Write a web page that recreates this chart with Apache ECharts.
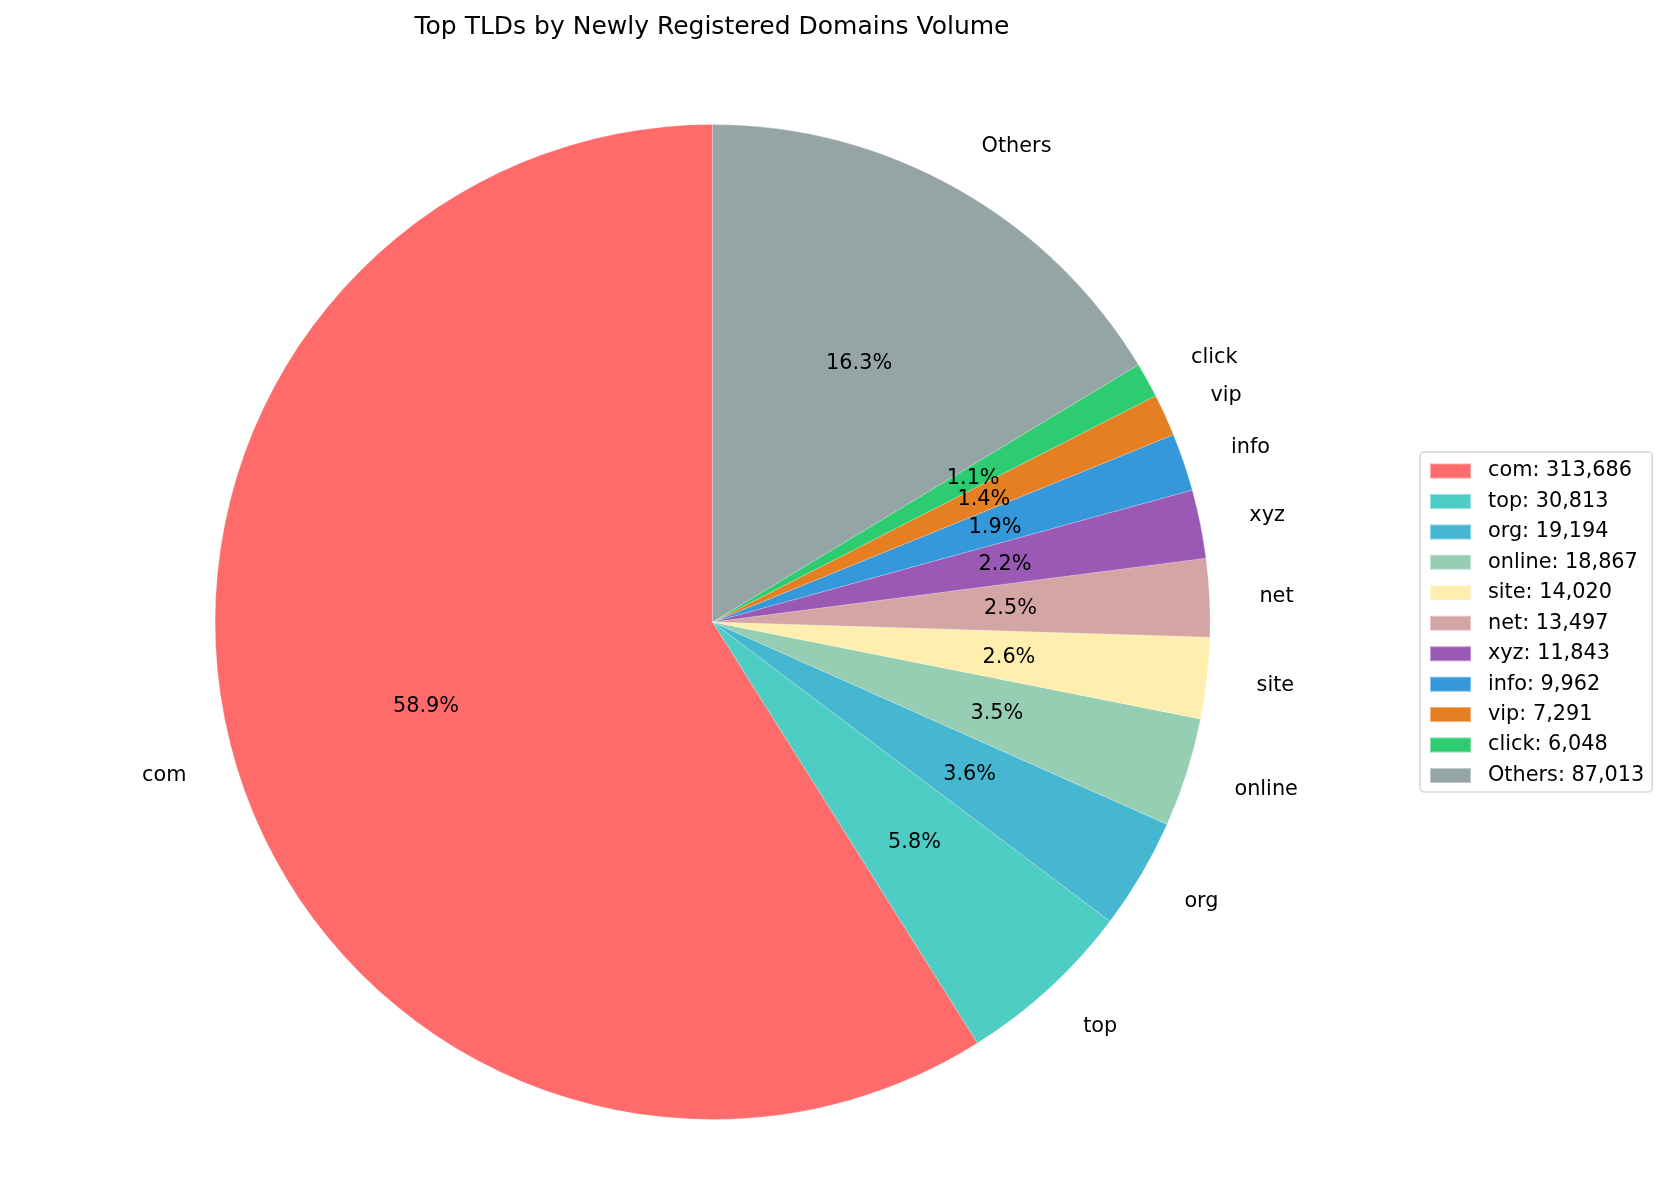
<!DOCTYPE html>
<html>
<head>
<meta charset="utf-8">
<title>Top TLDs</title>
<style>
  html, body { margin: 0; padding: 0; background: #fff; }
  #chart { width: 1666px; height: 1185px; }
</style>
<script src="https://cdn.jsdelivr.net/npm/echarts@6/dist/echarts.min.js"></script>
</head>
<body>
<div id="chart"></div>
<script>
const tlds = ['com', 'top', 'org', 'online', 'site', 'net', 'xyz', 'info', 'vip', 'click', 'Others']
const domainCounts = [313686, 30813, 19194, 18867, 14020, 13497, 11843, 9962, 7291, 6048, 87013]
const sliceColors = ['#FF6B6B', '#4ECDC4', '#45B7D1', '#96CEB4', '#FFEEAD', '#D4A5A5', '#9B59B6', '#3498DB', '#E67E22', '#2ECC71', '#95A5A6']

const FONT = '"DejaVu Sans"'
const CENTER = [712.6, 622]
const RADIUS = 497.5

const total = domainCounts.reduce((sum, v) => sum + v, 0)
const pieData = tlds.map((name, i) => ({ name, value: domainCounts[i], itemStyle: { color: sliceColors[i] } }))

const myChart = echarts.init(document.getElementById('chart'))

myChart.setOption({
  animation: false,
  backgroundColor: '#fff',
  title: {
    text: 'Top TLDs by Newly Registered Domains Volume',
    left: 707,
    top: 10,
    textAlign: 'center',
    textStyle: { fontFamily: FONT, fontSize: 25, fontWeight: 'normal', color: '#000' }
  },
  legend: {
    orient: 'vertical',
    left: 1420,
    top: 452,
    data: tlds,
    icon: 'rect',
    itemWidth: 41,
    itemHeight: 15,
    itemGap: 9.45,
    padding: [8.5, 8, 6, 9],
    borderColor: '#d5d5d5',
    borderWidth: 1.5,
    borderRadius: 4,
    formatter: name => `${name}: ${domainCounts[tlds.indexOf(name)].toLocaleString('en-US')}`,
    textStyle: { fontFamily: FONT, fontSize: 20.8, lineHeight: 20, color: '#000', padding: [0, 0, 0, 12] }
  },
  series: [
    {
      // slices and the names outside
      type: 'pie',
      center: CENTER,
      radius: [0, RADIUS],
      startAngle: 90,
      clockwise: false,
      avoidLabelOverlap: false,
      data: pieData,
      itemStyle: { borderColor: 'rgba(255,255,255,0.4)', borderWidth: 0.5 },
      label: {
        position: 'outside',
        formatter: '{b}',
        fontFamily: FONT,
        fontSize: 20.8,
        color: '#000',
        distanceToLabelLine: 0
      },
      labelLine: { show: false, length: 50, length2: 0 },
      labelLayout: { dy: 1.8 },
      emphasis: { disabled: true }
    },
    {
      // transparent copy, only so the percent labels sit at 0.6 of the radius
      type: 'pie',
      center: CENTER,
      radius: [0, RADIUS * 1.187],
      startAngle: 90,
      clockwise: false,
      avoidLabelOverlap: false,
      silent: true,
      legendHoverLink: false,
      data: tlds.map((name, i) => ({ name, value: domainCounts[i] })),
      itemStyle: { color: 'rgba(0,0,0,0)' },
      label: {
        position: 'inside',
        formatter: p => (p.value / total * 100).toFixed(1) + '%',
        fontFamily: FONT,
        fontSize: 20.8,
        color: '#000'
      },
      labelLine: { show: false },
      labelLayout: { dy: 1.5 },
      emphasis: { disabled: true }
    }
  ]
})
</script>
</body>
</html>
